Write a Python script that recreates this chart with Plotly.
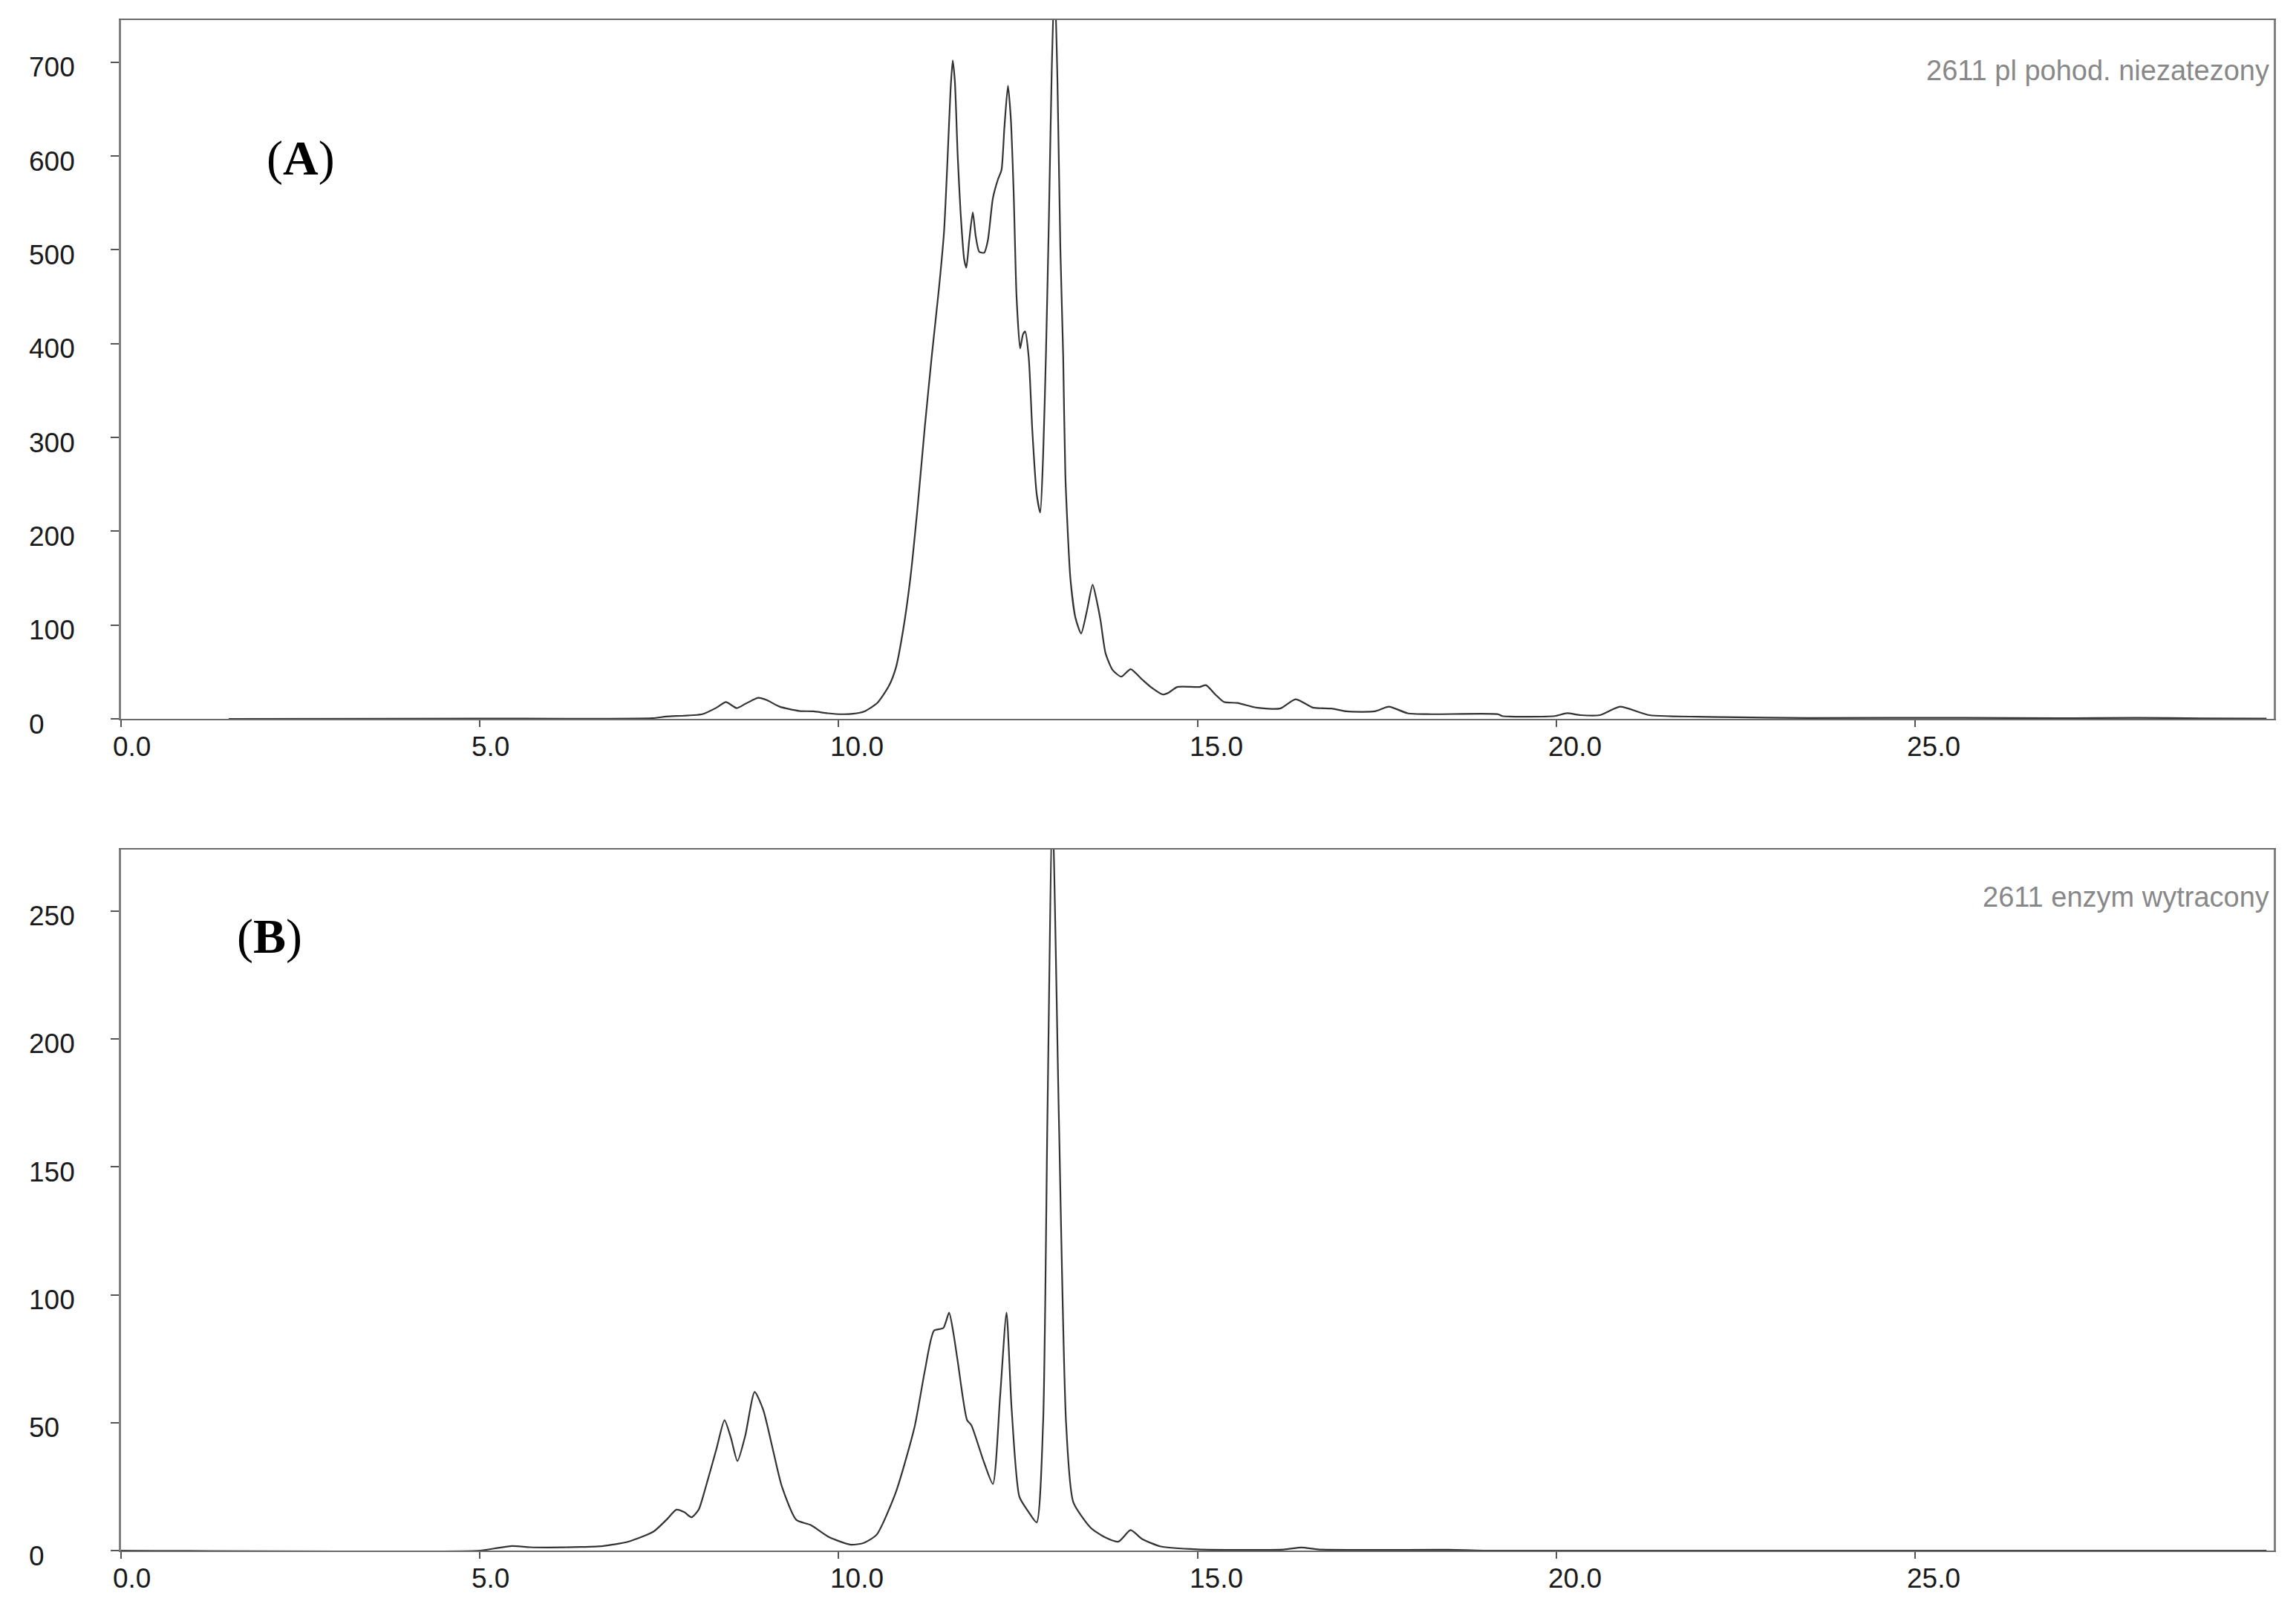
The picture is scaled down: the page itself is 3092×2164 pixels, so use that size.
import plotly.graph_objects as go
from plotly.subplots import make_subplots

# chromatogram (A): retention time [min] and detector signal
time_a = [1.5, 5.0, 7.4, 7.6, 8.1, 8.3, 8.43, 8.58, 8.7, 8.88, 9.0, 9.18, 9.45, 9.65, 9.85,
          10.05, 10.2, 10.36, 10.54, 10.7, 10.8, 10.9, 11.0, 11.1, 11.2, 11.3, 11.4, 11.47,
          11.52, 11.56, 11.59, 11.62, 11.66, 11.7, 11.75, 11.78, 11.82, 11.87, 11.91, 11.96,
          12.03, 12.08, 12.15, 12.22, 12.27, 12.31, 12.36, 12.4, 12.44, 12.48, 12.53, 12.57,
          12.6, 12.65, 12.7, 12.76, 12.81, 12.85, 12.89, 12.93, 12.97, 13.01, 13.05, 13.09,
          13.13, 13.16, 13.23, 13.3, 13.38, 13.46, 13.54, 13.6, 13.65, 13.72, 13.82, 13.94,
          14.07, 14.23, 14.35, 14.52, 14.6, 14.72, 15.03, 15.12, 15.25, 15.37, 15.56, 15.82,
          16.15, 16.37, 16.61, 16.87, 17.08, 17.47, 17.67, 17.93, 18.26, 19.19, 19.25, 19.98,
          20.15, 20.34, 20.61, 20.89, 21.3, 22.32, 23.5, 25.7, 27.0, 28.1, 29.0, 29.9]
signal_a = [0, 0.3, 0.8, 2.5, 5, 12, 18, 11.5, 16, 22.5, 20, 13, 8.5, 8, 6,
            5, 5.5, 8, 17, 35, 55, 95, 150, 225, 310, 388, 460, 520,
            600, 670, 702, 680, 600, 540, 490, 481, 510, 540, 515, 498,
            497, 510, 555, 575, 585, 630, 675, 640, 560, 450, 395, 410,
            413, 385, 307, 240, 220, 280, 390, 530, 690, 790, 680, 503,
            386, 260, 150, 108, 91, 115, 143, 125, 105, 70, 52, 45,
            53, 42, 34, 26, 28, 34, 34, 36, 26, 18, 17, 12,
            11, 21, 12, 11, 8, 8, 13, 6, 5, 5, 3, 3,
            6, 4, 4, 13, 4, 2, 1, 1.2, 0.7, 1.2, 0.5, 0.3]

# chromatogram (B)
time_b = [0, 5.0, 5.2, 5.45, 5.7, 5.96, 6.4, 6.72, 7.07, 7.42, 7.6, 7.74, 7.85, 7.95, 8.05,
          8.13, 8.3, 8.41, 8.5, 8.59, 8.7, 8.83, 8.95, 9.08, 9.21, 9.41, 9.61, 9.87, 10.17,
          10.35, 10.53, 10.8, 11.06, 11.2, 11.33, 11.46, 11.54, 11.6, 11.66, 11.79, 11.85,
          12.02, 12.15, 12.25, 12.34, 12.41, 12.52, 12.65, 12.76, 12.85, 12.91, 12.98, 13.07,
          13.17, 13.27, 13.51, 13.71, 13.9, 14.07, 14.23, 14.49, 15.0, 16.2, 16.45, 16.7,
          18.5, 19.0, 29.9]
signal_b = [0, 0, 0.8, 1.8, 1.3, 1.2, 1.4, 1.8, 3.5, 7.4, 12, 16, 15, 13, 16,
            23, 40, 51, 44, 35, 45, 62, 55, 40, 25, 12, 10, 5.2, 2.3,
            3, 6.2, 23, 48.5, 70, 86, 87, 93, 85, 74, 51, 49,
            35, 26, 60, 93, 56, 21, 15, 11, 50, 169, 290, 169,
            50, 19, 9, 5.2, 3.5, 8, 4.5, 1.6, 0.5, 0.4, 1.2, 0.4,
            0.3, 0, 0]

x_ticks = [0, 5, 10, 15, 20, 25]
y_ticks_a = [0, 100, 200, 300, 400, 500, 600, 700]
y_ticks_b = [0, 50, 100, 150, 200, 250]
sample_a = "2611 pl pohod. niezatezony"
sample_b = "2611 enzym wytracony"

fig = make_subplots(rows=2, cols=1)

line_style = dict(color="#333333", width=2.2, shape="spline", smoothing=0.6)
fig.add_trace(go.Scatter(x=time_a, y=signal_a, mode="lines", line=line_style, showlegend=False), row=1, col=1)
fig.add_trace(go.Scatter(x=time_b, y=signal_b, mode="lines", line=line_style, showlegend=False), row=2, col=1)

tick_font = dict(family="Liberation Sans, Arial", size=37, color="#1a1a1a")
xaxis_style = dict(
    range=[0, 30], tickvals=x_ticks, ticks="outside", ticklen=9,
    tickcolor="#555555", tickwidth=2, showline=True, linecolor="#6a6a6a", linewidth=2,
    mirror=True, showgrid=False, zeroline=False, showticklabels=False,
)
yaxis_style = dict(
    ticks="outside", ticklen=11, tickcolor="#555555", tickwidth=2, showline=True,
    linecolor="#808080", linewidth=3, mirror=True, showgrid=False, zeroline=False,
    showticklabels=False,
)
fig.update_xaxes(**xaxis_style)
fig.update_yaxes(**yaxis_style)
fig.update_yaxes(range=[0, 745], tickvals=y_ticks_a, domain=[0.5434, 1.0], row=1, col=1)
fig.update_yaxes(range=[0, 274], tickvals=y_ticks_b, domain=[0.0, 0.458], row=2, col=1)

# left-aligned tick labels, as in the original software
for yref, ticks in (("y", y_ticks_a), ("y2", y_ticks_b)):
    for v in ticks:
        fig.add_annotation(x=-0.0435, xref="paper", y=v, yref=yref, text=str(v),
                           xanchor="left", yanchor="middle", yshift=-7, showarrow=False,
                           font=tick_font)
for xref, yref in (("x", "y domain"), ("x2", "y2 domain")):
    for t in x_ticks:
        fig.add_annotation(x=t, xref=xref, y=0, yref=yref, text=f"{t:.1f}",
                           xanchor="left", yanchor="top", xshift=-13, yshift=-15,
                           showarrow=False, font=tick_font)

# panel letters and sample names
fig.add_annotation(x=2.5, y=598, xref="x", yref="y", text="(<b>A</b>)", showarrow=False,
                   font=dict(family="Liberation Serif, Times New Roman", size=66, color="black"))
fig.add_annotation(x=2.07, y=240, xref="x2", yref="y2", text="(<b>B</b>)", showarrow=False,
                   font=dict(family="Liberation Serif, Times New Roman", size=66, color="black"))
fig.add_annotation(x=1, y=0.928, xref="x domain", yref="y domain", text=sample_a,
                   xanchor="right", yanchor="middle", xshift=-4, showarrow=False,
                   font=dict(family="Liberation Sans, Arial", size=38, color="#888888"))
fig.add_annotation(x=1, y=0.932, xref="x2 domain", yref="y2 domain", text=sample_b,
                   xanchor="right", yanchor="middle", xshift=-4, showarrow=False,
                   font=dict(family="Liberation Sans, Arial", size=38, color="#888888"))

fig.update_layout(
    width=3076, height=2148,
    margin=dict(l=155, r=22, t=19, b=68),
    plot_bgcolor="white", paper_bgcolor="white",
)

fig.write_html("out.html")
